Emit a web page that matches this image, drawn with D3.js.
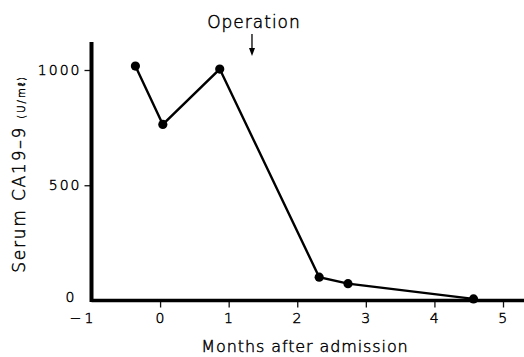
<!DOCTYPE html>
<html><head><meta charset="utf-8">
<script src="https://cdn.jsdelivr.net/npm/d3@7"></script>
<style>body{margin:0;background:#fff}text{font-family:"DejaVu Sans",sans-serif;fill:#000;font-weight:200;stroke:#000;stroke-width:0.45px}</style>
</head><body>
<svg id="c" width="524" height="357"></svg>
<script>
const months = [-0.36, 0.04, 0.87, 2.32, 2.74, 4.57];
const ca199 = [1017, 764, 1004, 101, 73, 7];
const xTicks = [-1, 0, 1, 2, 3, 4, 5];
const xTickLabels = ["−1", "0", "1", "2", "3", "4", "5"];
const yTicks = [0, 500, 1000];
const yTickLabels = ["0", "500", "1000"];
const operationMonth = 1.34;

const FONT = "DejaVu Sans, sans-serif";
const svg = d3.select("#c");
const x = d3.scaleLinear().domain([-1, 5]).range([91.5, 503]);
const y = d3.scaleLinear().domain([0, 1000]).range([300.5, 70]);

const xa = svg.append("g").attr("transform", `translate(0,${y(0)})`)
  .call(d3.axisBottom(x).tickValues(xTicks).tickSize(7).tickPadding(6)
    .tickFormat((d,i)=>xTickLabels[i]));
xa.select(".domain").remove();
xa.selectAll("line").attr("stroke","#111").attr("stroke-width",1.3);
xa.selectAll("text").attr("font-size",14).attr("font-family",FONT).attr("fill","#000")
  .attr("letter-spacing",1.5);
xa.selectAll(".tick").filter(d=>d===-1).select("line").remove();
xa.selectAll(".tick").filter(d=>d===-1).select("text").attr("x",-9).attr("letter-spacing",3);

const ya = svg.append("g").attr("transform", `translate(${x(-1)},0)`)
  .call(d3.axisLeft(y).tickValues(yTicks).tickSize(7).tickPadding(5)
    .tickFormat((d,i)=>yTickLabels[i]));
ya.select(".domain").remove();
ya.selectAll("line").attr("stroke","#111").attr("stroke-width",1.3);
ya.selectAll("text").attr("font-size",14).attr("font-family",FONT).attr("fill","#000")
  .attr("letter-spacing",2).attr("x",-10);
ya.selectAll(".tick").filter(d=>d===0).select("line").remove();
ya.selectAll(".tick").filter(d=>d===0).select("text").attr("x",-15).attr("dy","0.1em");

svg.append("line").attr("x1", x(-1)).attr("x2", 524).attr("y1", y(0)).attr("y2", y(0))
  .attr("stroke","#000").attr("stroke-width",3.5);
svg.append("line").attr("x1", x(-1)).attr("x2", x(-1)).attr("y1", y(0)+1.5).attr("y2", 42)
  .attr("stroke","#000").attr("stroke-width",4);

const pts = months.map((m,i)=>[m, ca199[i]]);
svg.append("path").datum(pts)
  .attr("d", d3.line().x(d=>x(d[0])).y(d=>y(d[1])))
  .attr("fill","none").attr("stroke","#000").attr("stroke-width",2.4);
svg.selectAll("circle.pt").data(pts).enter().append("circle")
  .attr("class","pt").attr("cx",d=>x(d[0])).attr("cy",d=>y(d[1])).attr("r",4.6).attr("fill","#000");

svg.append("text").attr("x", x(operationMonth)+2).attr("y", 28).attr("text-anchor","middle")
  .attr("font-size",17).attr("letter-spacing",1).text("Operation");
svg.append("line").attr("x1", x(operationMonth)).attr("x2", x(operationMonth)).attr("y1", 34).attr("y2", 50)
  .attr("stroke","#000").attr("stroke-width",1.3);
svg.append("path").attr("d", `M${x(operationMonth)-3},48 L${x(operationMonth)+3},48 L${x(operationMonth)},56 Z`).attr("fill","#000");

svg.append("text").attr("x", 305).attr("y", 352).attr("text-anchor","middle")
  .attr("font-size",16).attr("letter-spacing",0.9).text("Months after admission");
const yt = svg.append("text").attr("transform","translate(25,174) rotate(-90)").attr("text-anchor","middle")
  .attr("font-size",17).attr("letter-spacing",1.8);
yt.append("tspan").text("Serum CA19–9 ");
yt.append("tspan").attr("font-size",10).attr("letter-spacing",2).text("(U/mℓ)");
</script>
</body></html>
